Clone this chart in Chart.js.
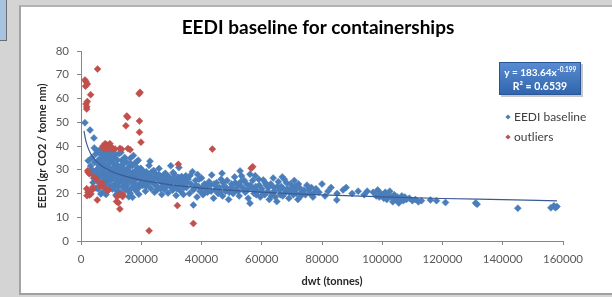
<!DOCTYPE html>
<html>
<head>
<meta charset="utf-8">
<script src="https://cdn.jsdelivr.net/npm/chart.js@4.4.1/dist/chart.umd.min.js"></script>
<style>
html, body { margin: 0; padding: 0; }
body { width: 612px; height: 297px; background: #d4d4d4; position: relative; overflow: hidden; }
#tab { position: absolute; left: 0; top: 0; width: 6px; height: 40px; background: #a6c3e0; border-right: 1px solid #6d6d6d; border-bottom: 1px solid #6d6d6d; }
#panel { position: absolute; left: 19px; top: 5px; width: 600px; height: 286px; background: #fff; border-left: 2px solid #a3a3a3; border-top: 2px solid #b3b3b3; border-bottom: 2px solid #a0a0a0; }
#chart { position: absolute; left: 0; top: 0; }
</style>
</head>
<body>
<div id="tab"></div>
<div id="panel"></div>
<canvas id="chart" width="612" height="297"></canvas>
<script>
const chartTitle = "EEDI baseline for containerships";
const xTitle = "dwt (tonnes)";
const yTitle = "EEDI (gr CO2 / tonne nm)";
const xTicks = [0, 20000, 40000, 60000, 80000, 100000, 120000, 140000, 160000];
const yTicks = [0, 10, 20, 30, 40, 50, 60, 70, 80];

// [dwt, EEDI]
const baseline = [
    [1300,49.8],[3000,46.7],[4300,43.4],[4400,39.2],[3500,30.2],[3800,28.1],[4200,26.4],[4500,33.2],[4800,29.5],[3600,35.1],
    [2700,29.0],[4000,24.6],[4900,36.6],[3200,31.6],[4600,27.2],[2400,33.8],[5000,22.3],
    [5200,38.1],[5500,30.4],[5800,34.2],[6000,26.8],[6200,36.9],[6500,24.1],[6800,31.7],[5300,27.6],[5700,21.9],[6100,29.3],
    [6400,33.5],[7000,37.4],[7200,25.2],[7400,28.9],[7600,35.6],[7800,22.6],[8000,30.8],[7100,20.4],[7500,32.6],[7900,26.7],
    [6600,19.8],[6900,35.0],[7300,23.8],[5600,25.0],[6300,38.4],[7700,38.0],[8000,34.3],
    [8200,28.2],[8400,36.1],[8600,24.5],[8800,31.9],[9000,21.3],[9200,35.4],[9400,27.3],[9600,33.1],[9800,23.2],[10000,30.1],
    [8300,19.6],[8700,26.0],[9100,37.8],[9500,29.4],[9900,25.6],[10200,36.6],[10400,21.9],[10600,32.8],[10800,27.1],[11000,34.9],
    [11200,23.9],[11400,29.8],[11600,19.4],[11800,32.2],[10300,26.2],[10700,38.2],[11100,22.6],[11500,36.3],[11900,25.3],[10500,30.6],
    [12100,34.1],[12300,23.0],[12500,29.6],[12700,36.8],[12900,20.6],[13100,31.5],[13300,26.4],[13500,33.9],[13700,22.8],[12400,27.8],
    [12800,24.9],[13200,37.3],[13600,28.7],[13900,19.1],[14100,32.4],[14300,25.8],[14500,35.2],[14700,21.7],[14900,29.0],[15100,33.3],
    [15300,23.7],[15500,27.1],[15700,31.0],[15900,18.6],[14200,30.3],[15000,25.1],
    [16200,29.2],[16400,34.8],[16600,22.1],[16800,27.6],[17000,31.7],[17200,24.3],[17400,36.0],[16300,20.1],[17600,28.4],[17800,25.5],
    [18000,32.9],[18200,21.2],[18400,29.8],[18600,23.6],[18800,26.7],[19000,34.0],[19200,19.7],[19400,27.9],[19600,24.2],[19800,30.6],
    [17100,18.4],[18500,33.4],
    [5900,32.0],[6700,28.0],[7600,30.0],[8100,24.0],[8900,34.5],[9300,31.0],[9700,28.0],[10100,33.8],[10900,23.5],[11300,31.2],
    [11700,27.5],[12200,31.0],[12600,26.0],[13000,28.5],[13400,30.2],[13800,24.5],[14400,27.9],[14800,23.0],[15200,29.5],[15600,21.2],
    [16000,26.0],[16500,32.5],[16900,24.8],[17300,29.0],[17700,22.9],[18100,27.0],[18700,30.8],[19100,22.4],[19500,28.8],[19900,25.8],
    [9000,26.5],[10400,28.5],[11000,30.0],[12000,21.0],[7000,27.5],[6000,32.8],
    [20200,30.0],[20500,23.4],[20800,27.6],[21100,25.1],[21400,21.0],[21700,29.2],[22000,26.5],[22300,24.0],[22600,31.8],[22900,33.6],
    [23200,22.1],[23500,27.0],[23800,25.4],[24100,29.7],[24400,20.5],[24700,28.4],[25000,23.2],[25300,26.1],[25600,22.5],[25900,30.5],
    [26200,27.5],[26500,24.8],[26800,19.6],[27100,23.0],[27400,26.3],[27700,21.7],[28000,28.5],[28300,22.8],[28600,25.4],[28900,20.2],
    [29200,27.1],[29500,23.5],[29800,31.7],[30100,24.9],[30400,21.4],[30700,26.2],[31000,28.0],[31300,22.5],[31600,19.2],[31900,25.8],
    [32200,23.1],[32500,30.9],[32800,24.4],[33100,21.0],[33400,27.2],[33700,23.6],[34000,19.6],[34300,25.5],
    [20400,26.0],[21000,28.8],[21600,23.1],[22200,27.8],[22800,25.5],[23400,29.0],[24000,24.3],[24600,26.5],[25200,21.5],[25800,28.0],
    [26400,22.0],[27000,25.2],[27600,28.0],[28200,24.0],[28800,27.0],[29400,25.0],[30000,22.5],[30600,28.8],[31200,24.8],[31800,22.0],
    [32400,26.8],[33000,24.0],[33600,26.0],[34200,22.5],[34800,27.5],
    [35000,22.5],[35500,26.0],[36000,20.0],[36500,24.0],[37000,29.2],[37300,15.2],[37600,22.0],[38000,25.5],[38500,18.5],[39000,23.0],
    [39500,21.0],[40000,26.5],[40500,19.5],[41000,24.0],[41500,22.0],[42000,20.5],[42500,25.0],[43000,23.5],[43400,27.8],[44000,18.0],
    [44500,21.5],[45000,24.5],[45500,20.0],[46000,22.5],[46500,26.0],[47000,19.0],[47500,23.0],[48000,21.0],[48500,25.5],[49000,17.5],
    [49500,22.0],[50000,24.0],[50500,20.0],[51000,27.0],[51500,21.5],[52000,23.5],[52500,19.0],[53000,25.0],[53300,27.4],[54000,22.0],
    [54500,20.5],[55000,24.0],[55500,18.0],[56100,28.1],[56100,15.9],[56500,22.5],[57000,25.5],[57500,20.0],[58000,23.0],[58500,21.0],
    [59000,26.0],[59500,18.5],
    [35200,24.5],[36200,27.5],[37200,21.5],[38200,23.5],[39200,26.0],[40200,22.5],[41200,20.5],[42200,23.5],[43200,21.0],[44200,24.0],
    [45200,22.5],[46200,20.5],[47200,24.5],[48200,22.5],[49200,20.5],[50200,22.5],[51200,24.5],[52200,21.0],[53200,23.0],[54200,25.5],
    [55200,21.5],[56200,23.5],[57200,22.0],[58200,19.5],[59200,23.5],[38700,28.0],[46800,28.5],[52800,29.5],[57800,27.5],
    [60000,22.0],[60500,25.7],[61000,19.5],[61500,23.5],[62000,21.0],[62500,17.5],[63000,24.0],[63500,20.0],[64000,22.5],[64500,18.5],
    [65000,16.6],[65500,25.0],[66000,21.5],[66500,23.0],[67000,19.0],[67500,26.0],[68000,20.5],[68500,22.0],[69000,18.0],[69500,24.0],
    [70000,21.0],[70500,19.5],[71000,23.0],[71500,20.0],[72000,17.5],[72500,22.5],[73000,19.0],[74000,21.5],[75000,23.5],[76000,20.0],
    [77000,18.5],[78000,22.0],[79000,20.5],[80000,24.0],[81000,19.0],[82000,21.0],[83000,22.5],[84900,17.3],[85000,20.0],
    [60200,20.5],[61200,24.5],[62200,22.5],[63200,19.0],[64200,21.0],[65200,23.0],[66200,19.5],[67200,22.0],[68200,24.5],[69200,20.5],
    [70200,22.5],[71200,21.5],[72200,24.0],[73200,20.5],[74500,19.5],[75500,21.5],[76500,22.5],[77500,20.5],[63800,26.5],[66800,27.0],
    [70800,25.5],
    [87000,21.5],[88000,22.5],[90000,20.0],[92000,21.0],[94000,19.5],[95000,21.0],
    [97000,20.5],[98000,19.0],[98500,21.5],[99000,18.5],[99500,20.0],[100000,19.5],[100500,18.0],[101000,20.5],[101500,17.5],[102000,19.0],
    [102500,21.0],[103000,18.5],[103500,16.5],[104000,19.5],[104500,17.5],[105000,18.5],[105500,16.0],[106000,18.0],[106500,19.0],[107000,17.0],
    [107500,18.5],[108000,17.5],[109000,18.0],[110000,17.0],[111000,17.5],[112000,16.5],[113000,17.0],
    [116000,17.3],[118000,17.0],[121000,16.2],[131000,16.0],[131500,15.5],[145000,13.8],[156000,14.0],[157000,14.8],[158000,14.5],[157500,14.0]
];

const outliers = [
    [1330,67.8],[1660,67.1],[2100,66.1],[1500,65.2],[5500,72.4],[1660,57.7],[1880,56.5],[1880,55.6],[2100,58.7],[3200,61.6],
    [19600,62.6],[19300,62.0],[15200,52.6],[15500,52.1],[14900,48.5],[19400,50.5],[19400,45.8],[19900,41.6],
    [7300,40.0],[8000,41.0],[8600,40.5],[9300,40.0],[10000,39.5],[10600,39.0],[11300,38.7],[8300,39.3],[9600,41.0],[7600,39.0],
    [12900,39.0],[13500,38.6],[15600,38.9],[16300,38.4],[8900,38.6],
    [2200,29.6],[2400,28.9],[2760,28.3],[1900,22.0],[2300,20.5],[2800,19.4],[3300,19.8],[3800,21.6],[2000,19.1],[4600,26.8],
    [5200,26.0],[3900,22.6],[5400,17.3],[6300,22.9],[7200,23.2],[6870,24.5],[8500,21.5],[11800,16.6],[12400,16.1],[11900,18.7],
    [12600,19.4],[13800,18.7],[12900,13.5],[9100,21.5],[13850,19.7],
    [22600,4.3],[32000,14.9],[32300,32.3],[37300,7.4],[43600,38.7],[57000,31.3],[56500,30.6]
];

// power trendline as it runs across the plot
const trendDwt = [1000, 1500, 2000, 3000, 4000, 5000, 7000, 10000, 14000, 20000, 30000, 40000, 60000, 80000, 100000, 120000, 140000, 158000];
const trendEedi = [46.4, 42.8, 40.5, 37.3, 35.3, 33.7, 31.5, 29.4, 27.5, 25.6, 23.6, 22.3, 20.6, 19.4, 18.6, 17.9, 17.4, 16.9];

const blue = "#4a7ebb";
const red = "#c0504d";
const axisGray = "#868686";
const FONT = "Lato, 'Open Sans', sans-serif";

const diamond = (ctx, x, y, r, color) => {
    ctx.fillStyle = color;
    ctx.beginPath();
    ctx.moveTo(x, y - r);
    ctx.lineTo(x + r, y);
    ctx.lineTo(x, y + r);
    ctx.lineTo(x - r, y);
    ctx.closePath();
    ctx.fill();
};

const decor = {
    id: "decor",
    afterDraw(chart) {
        const ctx = chart.ctx;
        ctx.save();
        ctx.textAlign = "center";
        ctx.textBaseline = "middle";

        ctx.fillStyle = "#000";
        ctx.font = "bold 19px " + FONT;
        ctx.fillText(chartTitle, 318, 28);

        ctx.fillStyle = "#262626";
        ctx.font = "bold 11px " + FONT;
        ctx.fillText(xTitle, 332, 281);
        ctx.save();
        ctx.translate(42, 146);
        ctx.rotate(-Math.PI / 2);
        ctx.fillText(yTitle, 0, 0);
        ctx.restore();

        // equation box
        const bx = 499, by = 62, bw = 82, bh = 33;
        ctx.fillStyle = "rgba(0,0,0,0.22)";
        ctx.fillRect(bx + 2, by + 2, bw, bh);
        const g = ctx.createLinearGradient(0, by, 0, by + bh);
        g.addColorStop(0, "#5a8cd2");
        g.addColorStop(1, "#2f64ac");
        ctx.fillStyle = g;
        ctx.fillRect(bx, by, bw, bh);
        ctx.strokeStyle = "#2a5594";
        ctx.lineWidth = 1;
        ctx.strokeRect(bx + 0.5, by + 0.5, bw - 1, bh - 1);

        ctx.fillStyle = "#fff";
        ctx.textAlign = "left";
        ctx.font = "bold 10px " + FONT;
        const main = "y = 183.64x";
        const sup = "-0.199";
        const mw = ctx.measureText(main).width;
        ctx.font = "bold 6.5px " + FONT;
        const sw = ctx.measureText(sup).width;
        const sx = bx + (bw - mw - sw) / 2;
        ctx.font = "bold 10px " + FONT;
        ctx.fillText(main, sx, by + 11);
        ctx.font = "bold 6.5px " + FONT;
        ctx.fillText(sup, sx + mw + 0.5, by + 7.5);
        ctx.font = "bold 10.5px " + FONT;
        ctx.textAlign = "center";
        ctx.fillText("R\u00b2 = 0.6539", bx + bw / 2, by + 24.5);

        // legend
        ctx.textAlign = "left";
        ctx.font = "12px " + FONT;
        diamond(ctx, 508, 117, 2.6, blue);
        ctx.fillStyle = "#404040";
        ctx.fillText("EEDI baseline", 514, 117);
        diamond(ctx, 508, 137, 2.6, red);
        ctx.fillStyle = "#404040";
        ctx.fillText("outliers", 514, 137);
        ctx.restore();
    }
};

const toPoints = (pairs) => pairs.map(([x, y]) => ({ x, y }));

new Chart(document.getElementById("chart"), {
    type: "scatter",
    plugins: [decor],
    data: {
        datasets: [
            {
                label: "trend",
                type: "line",
                data: trendDwt.map((x, i) => ({ x, y: trendEedi[i] })),
                borderColor: "#3a5a94",
                borderWidth: 1.2,
                pointRadius: 0,
                cubicInterpolationMode: "monotone",
                fill: false,
                order: 0
            },
            {
                label: "outliers",
                data: toPoints(outliers),
                pointStyle: "rectRot",
                pointRadius: 3.5,
                backgroundColor: red,
                borderColor: red,
                borderWidth: 0.5,
                order: 1
            },
            {
                label: "EEDI baseline",
                data: toPoints(baseline),
                pointStyle: "rectRot",
                pointRadius: 3.5,
                backgroundColor: blue,
                borderColor: blue,
                borderWidth: 0.5,
                order: 2
            }
        ]
    },
    options: {
        responsive: false,
        devicePixelRatio: 1,
        animation: false,
        layout: { padding: { left: 0, right: 49, top: 51, bottom: 0 } },
        plugins: {
            legend: { display: false },
            tooltip: { enabled: false }
        },
        scales: {
            x: {
                type: "linear",
                min: xTicks[0],
                max: xTicks[xTicks.length - 1],
                afterBuildTicks: (s) => { s.ticks = xTicks.map(v => ({ value: v })); },
                afterFit: (s) => { s.height = 56; },
                ticks: {
                    color: "#595959",
                    font: { family: FONT, size: 11.5 },
                    padding: 7,
                    maxRotation: 0,
                    autoSkip: false,
                    callback: (v) => String(v)
                },
                grid: { drawOnChartArea: false, drawTicks: true, tickLength: 4, color: axisGray },
                border: { color: axisGray }
            },
            y: {
                type: "linear",
                min: yTicks[0],
                max: yTicks[yTicks.length - 1],
                afterBuildTicks: (s) => { s.ticks = yTicks.map(v => ({ value: v })); },
                afterFit: (s) => { s.width = 81; },
                ticks: {
                    color: "#595959",
                    font: { family: FONT, size: 11.5 },
                    padding: 8,
                    autoSkip: false,
                    callback: (v) => String(v)
                },
                grid: { drawOnChartArea: false, drawTicks: true, tickLength: 4, color: axisGray },
                border: { color: axisGray }
            }
        }
    }
});
</script>
</body>
</html>
